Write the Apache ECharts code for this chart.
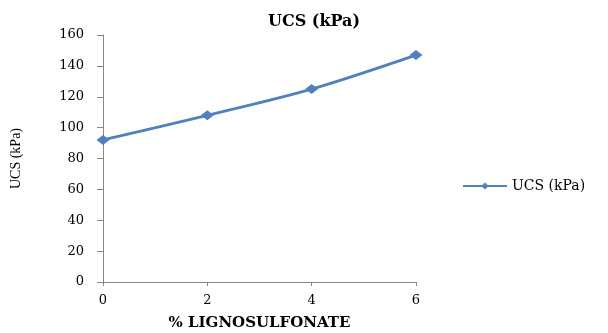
<!DOCTYPE html>
<html><head><meta charset="utf-8">
<script src="https://cdn.jsdelivr.net/npm/echarts@6/dist/echarts.min.js"></script>
<style>html,body{margin:0;padding:0;background:#fff}#c{width:608px;height:333px}</style>
</head><body><div id="c"></div>
<script>
const xValues = [0, 2, 4, 6];
const ucsValues = [92, 108, 125, 147];
const seriesName = 'UCS (kPa)';
const titleText = 'UCS (kPa)';
const xAxisName = '% LIGNOSULFONATE';
const yAxisName = 'UCS (kPa)';

const chart = echarts.init(document.getElementById('c'));
const wide = 'DejaVu Serif';
const serif = 'Liberation Serif';
chart.setOption({
  animation: false,
  backgroundColor: '#fff',
  title: { text: titleText, left: 309, top: 9, textAlign: 'center',
    textStyle: { fontFamily: wide, fontWeight: 'bold', fontSize: 16, color: '#000' } },
  legend: { data: [seriesName], left: 457, top: 174, itemWidth: 44, itemHeight: 9, itemGap: 6,
    textStyle: { fontFamily: wide, fontSize: 14, color: '#000' } },
  grid: { left: 103, right: 192, top: 35, bottom: 51, outerBoundsMode: 'none', containLabel: false },
  xAxis: { type: 'value', min: 0, max: 6, interval: 2,
    name: xAxisName, nameLocation: 'middle', nameGap: 34,
    nameTextStyle: { fontFamily: wide, fontWeight: 'bold', fontSize: 15, color: '#000' },
    axisLine: { lineStyle: { color: '#868686' } },
    axisTick: { show: true, length: 4, lineStyle: { color: '#868686' } },
    axisLabel: { fontFamily: wide, fontSize: 13, color: '#000', margin: 12 },
    splitLine: { show: false } },
  yAxis: { type: 'value', min: 0, max: 160, interval: 20,
    name: yAxisName, nameLocation: 'middle', nameGap: 80, nameRotate: 90,
    nameTextStyle: { fontFamily: serif, fontSize: 14, color: '#000' },
    axisLine: { show: true, lineStyle: { color: '#868686' } },
    axisTick: { show: true, length: 6, lineStyle: { color: '#868686' } },
    axisLabel: { fontFamily: wide, fontSize: 13, color: '#000', margin: 19 },
    splitLine: { show: false } },
  series: [{ name: seriesName, type: 'line', smooth: 0.3,
    data: xValues.map((x, i) => [x, ucsValues[i]]),
    symbol: 'diamond', symbolSize: [13, 10],
    lineStyle: { color: '#4F81BD', width: 2.8 },
    itemStyle: { color: '#4F81BD' } }]
});
</script></body></html>
